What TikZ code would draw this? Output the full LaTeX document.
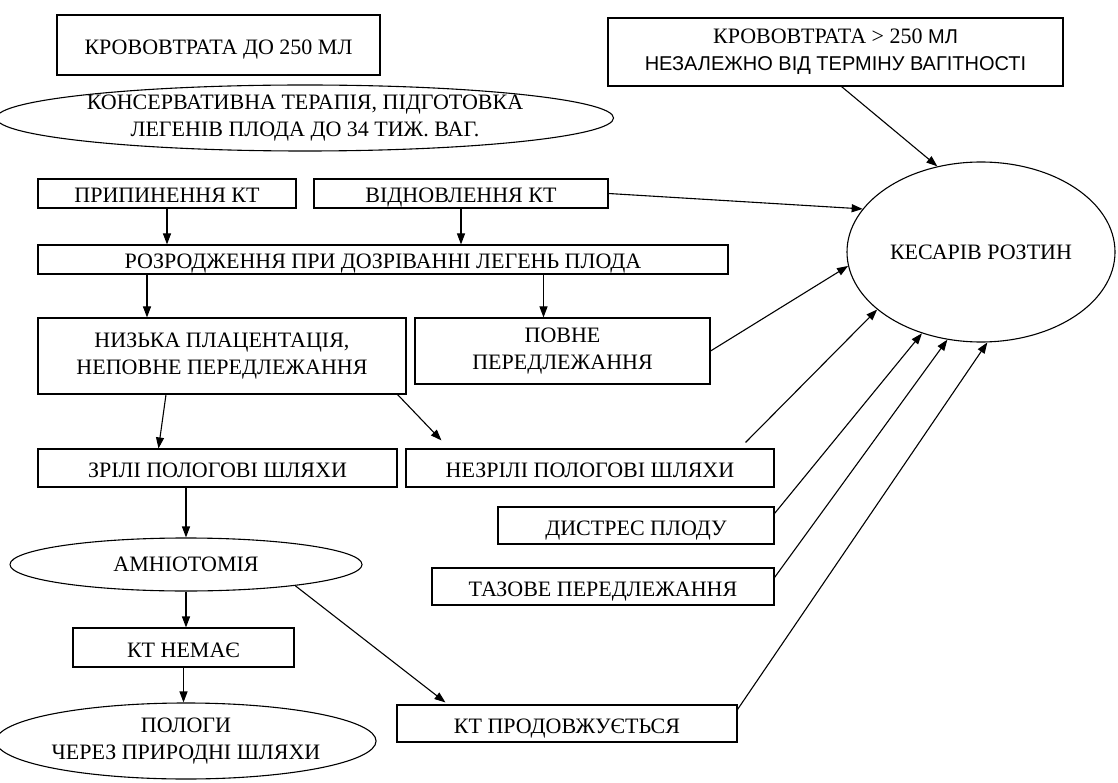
\documentclass[tikz,border=0pt]{standalone}
\usepackage{fontspec}
\setmainfont{Liberation Serif}
\newfontfamily\arialfont{Liberation Sans}
\usetikzlibrary{shapes.geometric,arrows.meta}

\begin{document}
\begin{tikzpicture}[x=1pt,y=-1pt,
  mbox/.style={draw, line width=1.1pt, inner sep=0pt, align=center,
    font=\fontsize{22}{27}\selectfont},
  box/.style={mbox, text height=19pt, text depth=0pt},
  oval/.style={mbox, ellipse},
  arr/.style={line width=1.1pt, -{Triangle[length=11pt,width=8pt]}}]
\path[use as bounding box] (0,0) rectangle (1118,783);

%Shape: Rectangle [id:loss250]
\node[box, minimum width=323pt, minimum height=60pt] (loss) at (218.5,45) {КРОВОВТРАТА ДО 250 МЛ};
%Shape: Rectangle [id:lossmore]
\node[mbox, minimum width=455pt, minimum height=68pt] (lossmore) at (835.5,52)
  {КРОВОВТРАТА > 250 {\arialfont\fontsize{20}{27}\selectfont МЛ}\\
   {\arialfont\fontsize{20}{27}\selectfont НЕЗАЛЕЖНО ВІД ТЕРМІНУ ВАГІТНОСТІ}};
%Shape: Ellipse [id:conserv]
\node[oval, inner ysep=-5pt, minimum width=590pt, minimum height=66pt] (conserv) at (305,118)
  {КОНСЕРВАТИВНА ТЕРАПІЯ, ПІДГОТОВКА\\ ЛЕГЕНІВ ПЛОДА ДО 34 ТИЖ. ВАГ.};
%Shape: Rectangle [id:stopkt]
\node[box, minimum width=258pt, minimum height=29pt] (stopkt) at (167,193.5) {ПРИПИНЕННЯ КТ};
%Shape: Rectangle [id:renewkt]
\node[box, minimum width=294pt, minimum height=29pt] (renewkt) at (461,193.5) {ВІДНОВЛЕННЯ КТ};
%Shape: Rectangle [id:delivery]
\node[box, minimum width=690pt, minimum height=29pt] (delivery) at (383,259.5) {РОЗРОДЖЕННЯ ПРИ ДОЗРІВАННІ ЛЕГЕНЬ ПЛОДА};
%Shape: Rectangle [id:lowplac]
\node[mbox, minimum width=368pt, minimum height=76pt] (lowplac) at (222,356)
  {НИЗЬКА ПЛАЦЕНТАЦІЯ,\\ НЕПОВНЕ ПЕРЕДЛЕЖАННЯ};
%Shape: Rectangle [id:fullprev]
\node[mbox, minimum width=295pt, minimum height=66pt] (fullprev) at (562.5,351)
  {ПОВНЕ\\ ПЕРЕДЛЕЖАННЯ};
%Shape: Rectangle [id:ripe]
\node[box, minimum width=359pt, minimum height=38pt] (ripe) at (217.5,468) {ЗРІЛІ ПОЛОГОВІ ШЛЯХИ};
%Shape: Rectangle [id:unripe]
\node[box, minimum width=368pt, minimum height=38pt] (unripe) at (590,468) {НЕЗРІЛІ ПОЛОГОВІ ШЛЯХИ};
%Shape: Rectangle [id:distress]
\node[box, minimum width=276pt, minimum height=37pt] (distress) at (636,525.5) {ДИСТРЕС ПЛОДУ};
%Shape: Rectangle [id:breech]
\node[box, minimum width=342pt, minimum height=37pt] (breech) at (603,586.5) {ТАЗОВЕ ПЕРЕДЛЕЖАННЯ};
%Shape: Ellipse [id:amnio]
\node[oval, minimum width=352pt, minimum height=53pt] (amnio) at (186,564.5) {АМНІОТОМІЯ};
%Shape: Rectangle [id:nokt]
\node[box, minimum width=221pt, minimum height=39pt] (nokt) at (183.5,647.5) {КТ НЕМАЄ};
%Shape: Ellipse [id:vaginal]
\node[oval, minimum width=352pt, minimum height=76pt] (vaginal) at (186,741)
  {ПОЛОГИ\\ ЧЕРЕЗ ПРИРОДНІ ШЛЯХИ};
%Shape: Rectangle [id:ktgoes]
\node[box, minimum width=340pt, minimum height=37pt] (ktgoes) at (567,723.5) {КТ ПРОДОВЖУЄТЬСЯ};
%Shape: Ellipse [id:csection]
\node[oval, minimum width=268pt, minimum height=180pt] (csection) at (981,252) {КЕСАРІВ РОЗТИН};

%Straight Lines [id:left column]
\draw[arr] (stopkt.south) -- (stopkt.south |- delivery.north);
\draw[arr] (renewkt.south) -- (renewkt.south |- delivery.north);
\draw[arr] ([xshift=-75pt]lowplac.north |- delivery.south) -- ([xshift=-75pt]lowplac.north);
\draw[arr] ([xshift=-19pt]fullprev.north |- delivery.south) -- ([xshift=-19pt]fullprev.north);
\draw[arr] ([xshift=-56pt]lowplac.south) -- ([xshift=-59pt]ripe.north);
\draw[arr] ([xshift=-9pt]lowplac.south east) -- ([xshift=36pt,yshift=8pt]unripe.north west);
\draw[arr] (amnio.north |- ripe.south) -- (amnio.north);
\draw[arr] (amnio.south) -- (amnio.south |- nokt.north);
\draw[arr] (nokt.south) -- (nokt.south |- vaginal.north);
\draw[arr] (amnio.-11) -- ([xshift=49pt,yshift=2pt]ktgoes.north west);

%Straight Lines [id:to caesarean]
\draw[arr] ([xshift=6pt]lossmore.south) -- (csection.117);
\draw[arr] (renewkt.east) -- (csection.160);
\draw[arr] (fullprev.east) -- (csection.186);
\draw[arr] ([xshift=-29pt,yshift=6pt]unripe.north east) -- (csection.209);
\draw[arr] ([yshift=-7pt]distress.north east) -- (csection.234);
\draw[arr] ([yshift=-10pt]breech.north east) -- (csection.249);
\draw[arr] ([yshift=-5pt]ktgoes.north east) -- (csection.274);

\end{tikzpicture}
\end{document}
